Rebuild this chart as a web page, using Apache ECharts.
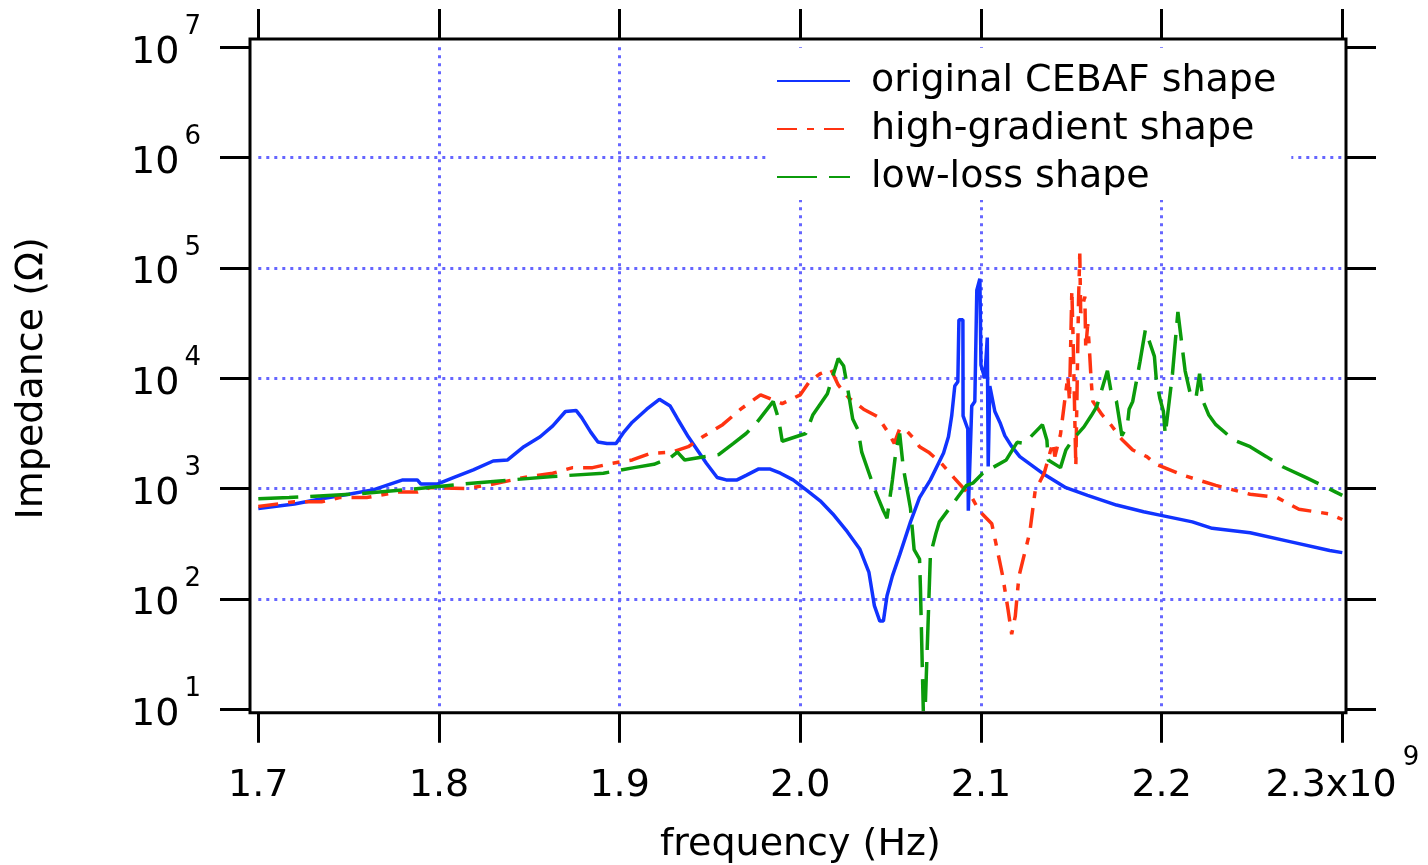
<!DOCTYPE html>
<html>
<head>
<meta charset="utf-8">
<script src="https://cdn.jsdelivr.net/npm/echarts@6/dist/echarts.min.js"></script>
<style>
html,body{margin:0;padding:0;background:#fff;}
#chart{width:1428px;height:865px;}
</style>
</head>
<body>
<div id="chart"></div>
<script>
// ---- data (frequency in GHz, impedance in Ohm) ----
const seriesNames = ['original CEBAF shape', 'high-gradient shape', 'low-loss shape'];

const freqBlue = [1.700,1.720,1.735,1.750,1.764,1.773,1.780,1.788,1.790,1.799,1.808,1.819,1.830,1.838,1.847,1.856,1.863,1.870,1.876,1.879,1.884,1.888,1.893,1.898,1.902,1.907,1.915,1.922,1.928,1.932,1.938,1.943,1.948,1.954,1.959,1.965,1.970,1.977,1.983,1.989,1.996,2.004,2.011,2.018,2.026,2.033,2.038,2.041,2.044,2.046,2.048,2.051,2.055,2.061,2.066,2.072,2.0793,2.082,2.0838,2.0855,2.0872,2.0878,2.0900,2.0901,2.0927,2.0930,2.0938,2.0949,2.0966,2.0977,2.0994,2.1000,2.1021,2.1035,2.1040,2.1049,2.1077,2.1105,2.1132,2.1171,2.1215,2.134,2.147,2.159,2.175,2.190,2.199,2.217,2.228,2.249,2.271,2.293,2.300];
const zBlue = [660,725,810,890,980,1100,1200,1200,1100,1100,1260,1480,1780,1820,2400,2950,3700,5000,5100,4400,3250,2650,2570,2570,3200,4000,5250,6450,5600,4300,2950,2240,1700,1260,1200,1200,1320,1510,1510,1380,1200,955,776,590,407,282,174,87,63,63,107,162,251,500,830,1200,2100,2950,4570,8500,9300,33900,33900,4570,3470,630,630,5620,6170,63000,80000,13200,10000,23400,1590,8500,5000,3980,3020,2400,1950,1380,1020,870,710,617,575,500,437,398,331,275,263];

const freqRed = [1.700,1.720,1.735,1.745,1.760,1.767,1.777,1.788,1.795,1.815,1.830,1.850,1.863,1.874,1.885,1.896,1.907,1.917,1.929,1.938,1.946,1.957,1.967,1.978,1.990,2.000,2.005,2.011,2.017,2.021,2.027,2.035,2.043,2.049,2.052,2.055,2.058,2.063,2.066,2.071,2.078,2.085,2.095,2.099,2.106,2.109,2.112,2.115,2.117,2.119,2.121,2.127,2.130,2.135,2.1398,2.1409,2.1440,2.1481,2.1490,2.1503,2.1510,2.1525,2.1540,2.1547,2.1552,2.1575,2.1580,2.1591,2.1600,2.1610,2.1619,2.1669,2.1724,2.1779,2.1840,2.1918,2.197,2.212,2.230,2.249,2.264,2.276,2.293,2.300];
const zRed = [690,760,760,830,830,870,930,930,1020,1000,1100,1290,1380,1550,1550,1700,1820,2090,2140,2400,2950,3800,5250,7080,5900,7080,9330,11000,12000,8700,6600,5250,4470,3160,2570,3470,3470,2820,2400,2140,1700,1260,830,630,480,280,162,80,48,70,160,400,955,1380,2630,1950,3100,10500,6200,63000,23000,1600,50000,135000,39000,55000,18600,31000,18600,9500,6200,4700,3700,2800,2240,1950,1660,1320,1070,890,830,650,590,525];

const freqGreen = [1.700,1.717,1.752,1.783,1.813,1.840,1.863,1.891,1.908,1.919,1.928,1.932,1.936,1.955,1.963,1.970,1.975,1.985,1.988,1.990,2.003,2.007,2.015,2.021,2.024,2.026,2.029,2.032,2.034,2.041,2.043,2.046,2.048,2.051,2.053,2.055,2.057,2.061,2.063,2.066,2.0665,2.0685,2.072,2.075,2.077,2.087,2.092,2.0955,2.101,2.114,2.120,2.124,2.134,2.1365,2.1372,2.144,2.147,2.151,2.157,2.161,2.164,2.170,2.172,2.175,2.178,2.181,2.182,2.184,2.188,2.191,2.196,2.197,2.199,2.201,2.202,2.206,2.209,2.213,2.216,2.219,2.221,2.223,2.226,2.230,2.240,2.249,2.258,2.267,2.280,2.295,2.300];
const zGreen = [810,830,890,980,1100,1200,1290,1380,1550,1660,1900,2140,1820,2040,2570,3160,3800,6170,4270,2690,3160,4680,7240,15100,12900,8500,4270,3390,2140,1000,830,630,540,1200,2240,3160,1550,660,280,230,126,5,250,390,500,830,1070,1120,1380,1820,2630,2570,3800,2750,1820,1550,2240,2820,3630,4570,5500,11700,7600,6170,3020,3720,5250,6170,14100,27500,15800,10000,6600,5000,3090,11000,40000,11700,7080,6600,11000,6170,4680,3800,2750,2400,1950,1580,1260,955,870];

// axis ticks
const xTicks = [1.7, 1.8, 1.9, 2.0, 2.1, 2.2, 2.3];
const xExponent = '9';
const yMin = 10, yMax = 1e7;

const FONT = 'DejaVu Sans';
const pair = (f, z) => f.map((v, i) => [v, z[i]]);

const chart = echarts.init(document.getElementById('chart'), null, {renderer: 'canvas'});

const gridStyle = {color: '#6666ff', width: 3, type: [3, 5]};
const tickStyle = {color: '#000', width: 3};

const option = {
  animation: false,
  backgroundColor: '#fff',
  grid: {left: 258.3, right: 85.7, top: 47.3, bottom: 155.7, containLabel: false, outerBoundsMode: 'none'},
  graphic: [{
    type: 'rect', z: 100,
    shape: {x: 250, y: 39, width: 1096, height: 673.7},
    style: {fill: 'none', stroke: '#000', lineWidth: 3}
  }],
  legend: {
    orient: 'vertical', left: 768, top: 48,
    padding: [13, 15, 3, 8], backgroundColor: '#fff',
    itemWidth: 73, itemHeight: 4, itemGap: 8,
    itemStyle: {opacity: 0},
    data: seriesNames,
    textStyle: {fontFamily: FONT, fontSize: 38, color: '#000', lineHeight: 40, padding: [0, 0, 0, 16]}
  },
  xAxis: [{
    type: 'value', min: xTicks[0], max: xTicks[xTicks.length - 1], interval: 0.1,
    position: 'bottom', offset: 3.4,
    axisLine: {show: false},
    axisTick: {show: true, inside: false, length: 30, lineStyle: tickStyle},
    splitLine: {show: true, showMinLine: false, showMaxLine: false, lineStyle: gridStyle},
    axisLabel: {
      margin: 33,
      formatter: function (v) {
        const s = Number(v).toFixed(1);
        if (s === xTicks[xTicks.length - 1].toFixed(1)) return '{m|' + s + 'x10}{s|' + xExponent + '}';
        return '{m|' + s + '}';
      },
      rich: {
        m: {fontFamily: FONT, fontSize: 38, lineHeight: 59, color: '#000', verticalAlign: 'bottom'},
        s: {fontFamily: FONT, fontSize: 26, lineHeight: 26, color: '#000', verticalAlign: 'top', padding: [0, 0, 0, 6]}
      }
    },
    name: 'frequency (Hz)', nameLocation: 'middle', nameGap: 113,
    nameTextStyle: {fontFamily: FONT, fontSize: 38, color: '#000'}
  }, {
    type: 'value', min: xTicks[0], max: xTicks[xTicks.length - 1], interval: 0.1,
    position: 'top', offset: 8.3,
    axisLine: {show: false},
    axisTick: {show: true, inside: false, length: 30, lineStyle: tickStyle},
    splitLine: {show: false},
    axisLabel: {show: false}
  }],
  yAxis: [{
    type: 'log', logBase: 10, min: yMin, max: yMax, splitNumber: 6,
    position: 'left', offset: 8.3,
    axisLine: {show: false},
    axisTick: {show: true, inside: false, length: 30, lineStyle: tickStyle},
    splitLine: {show: true, showMinLine: false, showMaxLine: false, lineStyle: gridStyle},
    minorTick: {show: false},
    axisLabel: {
      margin: 49,
      padding: [0, 0, 8.5, 0],
      formatter: function (v) {
        const e = Math.round(Math.log10(v));
        return '{b|10}{s|' + e + '}';
      },
      rich: {
        b: {fontFamily: FONT, fontSize: 38, lineHeight: 57.5, color: '#000', verticalAlign: 'bottom'},
        s: {fontFamily: FONT, fontSize: 26, lineHeight: 26, color: '#000', verticalAlign: 'top', padding: [0, 0, 0, 5]}
      }
    },
    name: 'Impedance (\u03A9)', nameLocation: 'middle', nameGap: 199,
    nameTextStyle: {fontFamily: FONT, fontSize: 38, color: '#000'}
  }, {
    type: 'log', logBase: 10, min: yMin, max: yMax, splitNumber: 6,
    position: 'right', offset: 3.7,
    axisLine: {show: false},
    axisTick: {show: true, inside: false, length: 30, lineStyle: tickStyle},
    splitLine: {show: false},
    axisLabel: {show: false}
  }],
  series: [{
    name: seriesNames[0], type: 'line', symbol: 'none', xAxisIndex: 0, yAxisIndex: 0,
    data: pair(freqBlue, zBlue),
    lineStyle: {color: '#1133ff', width: 3.5, type: 'solid'},
    itemStyle: {color: '#1133ff'}
  }, {
    name: seriesNames[1], type: 'line', symbol: 'none', xAxisIndex: 0, yAxisIndex: 0,
    data: pair(freqRed, zRed),
    lineStyle: {color: '#ff3311', width: 3.5, type: [20, 10, 7, 10]},
    itemStyle: {color: '#ff3311'}
  }, {
    name: seriesNames[2], type: 'line', symbol: 'none', xAxisIndex: 0, yAxisIndex: 0,
    data: pair(freqGreen, zGreen),
    lineStyle: {color: '#0b9b0b', width: 3.5, type: [40, 12]},
    itemStyle: {color: '#0b9b0b'}
  }]
};
chart.setOption(option);
</script>
</body>
</html>
